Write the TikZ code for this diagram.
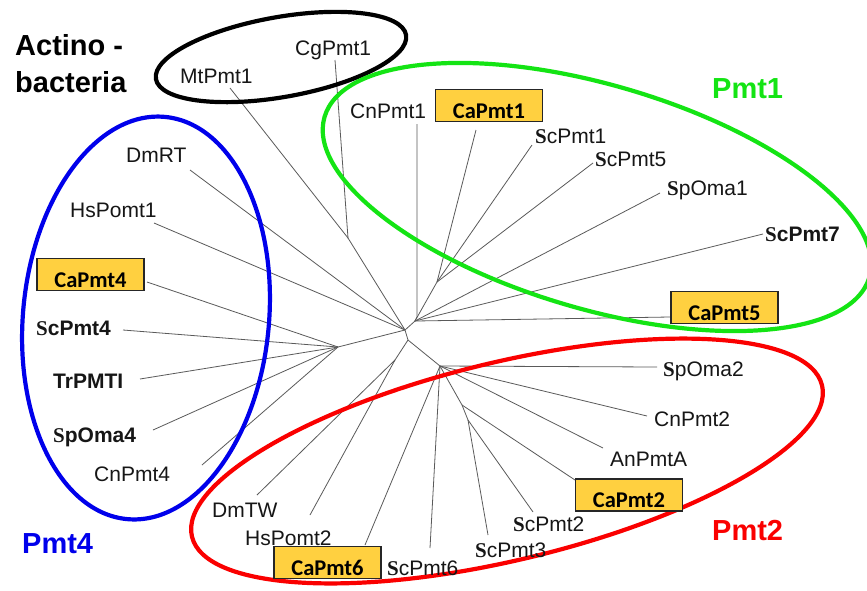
\documentclass[tikz,border=0pt]{standalone}
\usepackage{fontspec}
\setmainfont{Liberation Sans}
\newfontfamily\serifS{Liberation Serif}
\newfontfamily\carl{Carlito}
\definecolor{boxyellow}{RGB}{255,208,64}
\definecolor{pgreen}{RGB}{20,228,20}
\definecolor{pred}{RGB}{250,0,0}
\definecolor{pblue}{RGB}{0,0,235}
\definecolor{lbl}{RGB}{22,22,22}
\definecolor{branch}{RGB}{90,90,90}
\newcommand\SB{{\serifS\bfseries S}}
\begin{document}
\begin{tikzpicture}[x=1pt,y=-1pt,
  br/.style={draw=branch, line width=0.8pt},
  leaf/.style={anchor=base west, inner sep=0pt, text=lbl, font=\fontsize{21}{21}\selectfont},
  leafb/.style={anchor=base west, inner sep=0pt, text=lbl, font=\fontsize{21}{21}\selectfont\bfseries},
  ybox/.style={draw=black!85, line width=1.2pt, fill=boxyellow, minimum width=107pt, minimum height=32pt, inner sep=0pt, text height=25pt, text depth=0pt, font=\carl\bfseries\fontsize{22.5}{22.5}\selectfont},
  clade/.style={line width=4.2pt},
  grp/.style={anchor=base west, inner sep=0pt, font=\fontsize{29}{29}\selectfont\bfseries}]
\useasboundingbox (0,0) rectangle (867,590);
\fill[white] (0,0) rectangle (867,590);
\clip (0,0) rectangle (867,590);
% internal tree nodes
\coordinate (C1) at (405,330);
\coordinate (C2) at (408,340);
\coordinate (A) at (348,238);
\coordinate (P1) at (415,321);
\coordinate (S1) at (437,282);
\coordinate (L) at (338,347);
\coordinate (D) at (395,360);
\coordinate (P2) at (440,366);
\coordinate (Q) at (462,405);
\coordinate (Q2) at (468,420);
% leaf tips
\coordinate (tCg) at (335,60);
\coordinate (tMt) at (230,88);
\coordinate (tCn1) at (417,124);
\coordinate (tCa1) at (476,130);
\coordinate (tSc1) at (532,145);
\coordinate (tSc5) at (593,163);
\coordinate (tSpO1) at (660,193);
\coordinate (tSc7) at (763,234);
\coordinate (tCa5) at (670,317);
\coordinate (tDmRT) at (190,170);
\coordinate (tHs1) at (154,223);
\coordinate (tCa4) at (147,282);
\coordinate (tSc4) at (123,330);
\coordinate (tTr) at (140,379);
\coordinate (tSpO4) at (153,430);
\coordinate (tCn4) at (202,465);
\coordinate (tDmTW) at (257,495);
\coordinate (tHs2) at (310,515);
\coordinate (tSpO2) at (657,367);
\coordinate (tCn2) at (647,416);
\coordinate (tAn) at (603,448);
\coordinate (tCa2) at (575,480);
\coordinate (tSc2) at (533,512);
\coordinate (tSc3) at (488,535);
\coordinate (tSc6) at (430,548);
\coordinate (tCa6) at (365,545);
% branches
\draw[br] (tCg) -- (A);
\draw[br] (tMt) -- (A);
\draw[br] (A) -- (C1);
\draw[br] (tCn1) -- ++(0,193) -- (P1);
\draw[br] (tCa1) -- (S1);
\draw[br] (tSc1) -- (S1);
\draw[br] (tSc5) -- (S1);
\draw[br] (S1) -- (P1);
\draw[br] (tSpO1) -- (P1);
\draw[br] (tSc7) -- (P1);
\draw[br] (tCa5) -- (P1);
\draw[br] (P1) -- (C1);
\draw[br] (tDmRT) -- (C1);
\draw[br] (tHs1) -- (C1);
\draw[br] (tCa4) -- (L);
\draw[br] (tSc4) -- (L);
\draw[br] (tTr) -- (L);
\draw[br] (tSpO4) -- (L);
\draw[br] (tCn4) -- (L);
\draw[br] (L) -- (C1);
\draw[br] (C1) -- (C2);
\draw[br] (C2) -- (D);
\draw[br] (tDmTW) -- (D);
\draw[br] (tHs2) -- (D);
\draw[br] (C2) -- (P2);
\draw[br] (tSpO2) -- (P2);
\draw[br] (tCn2) -- (P2);
\draw[br] (tAn) -- (P2);
\draw[br] (P2) -- (Q);
\draw[br] (tCa2) -- (Q);
\draw[br] (Q) -- (Q2);
\draw[br] (tSc2) -- (Q2);
\draw[br] (tSc3) -- (Q2);
\draw[br] (tSc6) -- (P2);
\draw[br] (tCa6) -- (P2);
% clade ellipses
\draw[clade, black, shift={(281,57)}, rotate=10] (0,0) ellipse [x radius=127pt, y radius=40pt];
\draw[clade, pblue, shift={(146,318)}, rotate=-5.4] (0,0) ellipse [x radius=123pt, y radius=202pt];
\draw[clade, pgreen, shift={(597,197)}, rotate=-16.4] (0,0) ellipse [x radius=284pt, y radius=112pt];
\draw[clade, pred, shift={(507,461)}, rotate=13.5] (0,0) ellipse [x radius=324pt, y radius=99pt];
% leaf labels
\node[leaf] (lCg) at (295,55) {CgPmt1};
\node[leaf] (lMt) at (180,83) {MtPmt1};
\node[leaf] (lCn1) at (350,118) {CnPmt1};
\node[leaf] (lDmRT) at (126,162) {DmRT};
\node[leaf] (lHs1) at (70,217) {HsPomt1};
\node[leaf] (lSc1) at (535,143) {\SB cPmt1};
\node[leaf] (lSc5) at (595,166) {\SB cPmt5};
\node[leaf] (lSpO1) at (667,195) {\SB pOma1};
\node[leafb] (lSc7) at (765,241) {\SB cPmt7};
\node[leafb] (lSc4) at (36,335) {\SB cPmt4};
\node[leafb] (lTr) at (53,388) {TrPMTI};
\node[leafb] (lSpO4) at (53,442) {\SB pOma4};
\node[leaf] (lCn4) at (94,481) {CnPmt4};
\node[leaf] (lDmTW) at (212,517) {DmTW};
\node[leaf] (lHs2) at (245,545) {HsPomt2};
\node[leaf] (lSc6) at (387,575) {\SB cPmt6};
\node[leaf] (lSpO2) at (663,376) {\SB pOma2};
\node[leaf] (lCn2) at (654,426) {CnPmt2};
\node[leaf] (lAn) at (610,466) {AnPmtA};
\node[leaf] (lSc2) at (513,531) {\SB cPmt2};
\node[leaf] (lSc3) at (475,557) {\SB cPmt3};
% highlighted boxes
\node[ybox] (bCa1) at (489,105.5) {CaPmt1};
\node[ybox] (bCa4) at (90.5,274.5) {CaPmt4};
\node[ybox] (bCa5) at (724.5,307.5) {CaPmt5};
\node[ybox] (bCa2) at (629,495) {CaPmt2};
\node[ybox] (bCa6) at (327.5,562.5) {CaPmt6};
% group labels
\node[grp] (gA1) at (15,55) {Actino -};
\node[grp] (gA2) at (15,92) {bacteria};
\node[grp, text=pgreen] (g1) at (712,98) {Pmt1};
\node[grp, text=pblue] (g4) at (22,553) {Pmt4};
\node[grp, text=pred] (g2) at (712,540) {Pmt2};
\end{tikzpicture}
\end{document}
